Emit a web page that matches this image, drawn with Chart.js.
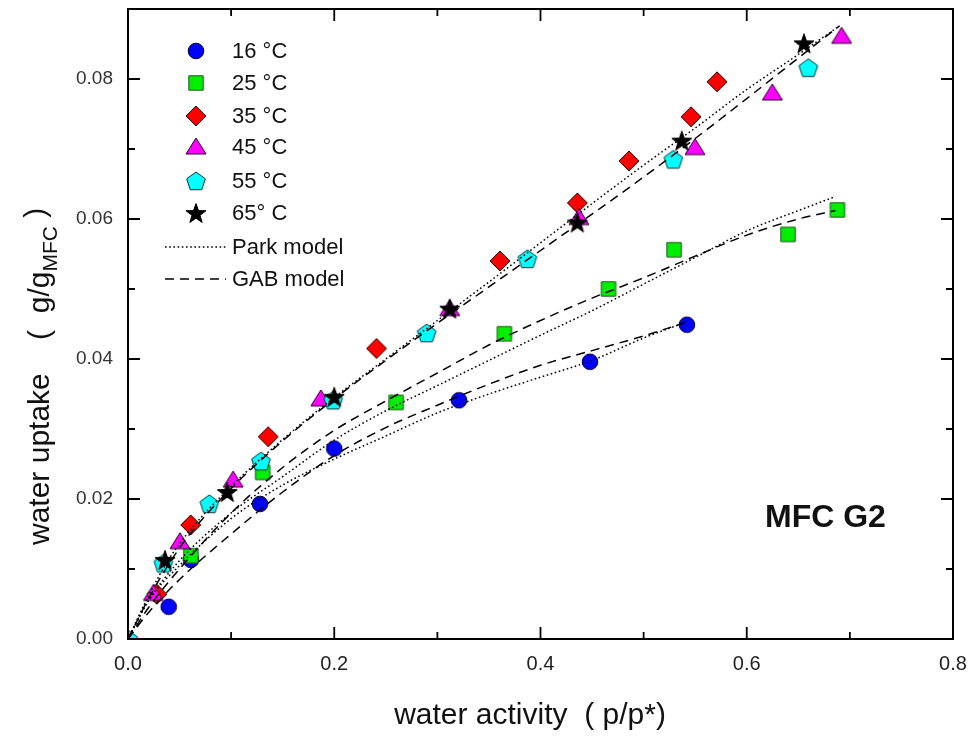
<!DOCTYPE html>
<html>
<head>
<meta charset="utf-8">
<script src="https://cdn.jsdelivr.net/npm/chart.js@4.4.1/dist/chart.umd.min.js"></script>
<style>
  body { margin: 0; background: #fff; }
  #wrap { width: 973px; height: 740px; }
</style>
</head>
<body>
<div id="wrap"><canvas id="chart" width="973" height="740"></canvas></div>
<script>
// measured points, water activity / water uptake
const aw16 = [0.0395, 0.061, 0.128, 0.200, 0.321, 0.448, 0.542];
const wu16 = [0.0046, 0.0113, 0.0193, 0.0272, 0.0341, 0.0396, 0.0449];
const aw25 = [0.061, 0.1306, 0.260, 0.365, 0.466, 0.5295, 0.640, 0.688];
const wu25 = [0.0119, 0.0238, 0.0338, 0.0436, 0.0500, 0.0556, 0.0578, 0.0613];
const aw35 = [0.028, 0.0608, 0.136, 0.241, 0.3607, 0.4357, 0.4858, 0.546, 0.5712];
const wu35 = [0.0064, 0.0163, 0.0289, 0.0415, 0.0540, 0.0623, 0.0683, 0.0746, 0.0796];
const aw45 = [0.0246, 0.0504, 0.102, 0.187, 0.312, 0.4373, 0.5498, 0.6248, 0.692];
const wu45 = [0.0065, 0.0139, 0.0227, 0.0343, 0.0472, 0.0602, 0.0702, 0.0780, 0.0861];
const aw55 = [0.0, 0.0343, 0.0789, 0.129, 0.199, 0.2896, 0.3873, 0.5288, 0.6597];
const wu55 = [0.0, 0.0108, 0.0193, 0.0254, 0.0341, 0.0437, 0.0543, 0.0685, 0.0816];
const aw65 = [0.0359, 0.0963, 0.200, 0.312, 0.4357, 0.537, 0.6555];
const wu65 = [0.0113, 0.0210, 0.0346, 0.0472, 0.0595, 0.0712, 0.0851];

// model curves
const mAw16 = [0, 0.02, 0.05, 0.1, 0.15, 0.2, 0.25, 0.3, 0.35, 0.4, 0.45, 0.5, 0.54];
const park16 = [0, 0.0055, 0.0105, 0.0172, 0.0220, 0.0257, 0.0290, 0.0323, 0.0350, 0.0374, 0.0398, 0.0430, 0.0452];
const gab16 = [0, 0.0038, 0.0085, 0.0150, 0.0210, 0.0262, 0.0302, 0.0334, 0.0364, 0.0391, 0.0412, 0.0433, 0.0452];
const mAw25 = [0, 0.02, 0.05, 0.1, 0.15, 0.2, 0.25, 0.3, 0.35, 0.4, 0.45, 0.5, 0.55, 0.6, 0.65, 0.686];
const park25 = [0, 0.0055, 0.0112, 0.0180, 0.0232, 0.0284, 0.0326, 0.0362, 0.0398, 0.0434, 0.0469, 0.0507, 0.0545, 0.0583, 0.0612, 0.0632];
const gab25 = [0, 0.0045, 0.0100, 0.0180, 0.0245, 0.0298, 0.0340, 0.0380, 0.0420, 0.0455, 0.0487, 0.0516, 0.0547, 0.0577, 0.0600, 0.0612];
const mAwHi = [0, 0.02, 0.04, 0.06, 0.1, 0.15, 0.2, 0.25, 0.3, 0.35, 0.4, 0.45, 0.5, 0.55, 0.6, 0.65, 0.69];
const parkHi = [0, 0.0062, 0.0115, 0.0155, 0.0218, 0.0285, 0.0345, 0.0400, 0.0455, 0.0510, 0.0566, 0.0622, 0.0677, 0.0730, 0.0785, 0.0835, 0.0876];
const gabHi = [0, 0.0058, 0.0108, 0.0150, 0.0215, 0.0283, 0.0343, 0.0398, 0.0451, 0.0503, 0.0555, 0.0607, 0.0660, 0.0715, 0.0772, 0.0830, 0.0876];

const legendNames = ['16 °C', '25 °C', '35 °C', '45 °C', '55 °C', '65° C'];
const modelNames = ['Park model', 'GAB model'];

function pts(xs, ys) {
  return xs.map(function (x, i) { return { x: x, y: ys[i] }; });
}

function makeMarker(shape, fill, stroke) {
  let c = document.createElement('canvas');
  c.width = 26; c.height = 26;
  let g = c.getContext('2d');
  g.translate(13, 13);
  g.fillStyle = fill;
  g.strokeStyle = stroke;
  g.lineWidth = 1;
  g.lineJoin = 'miter';
  g.beginPath();
  if (shape == 'circle') {
    g.arc(0, 0, 7.8, 0, Math.PI * 2);
  } else if (shape == 'square') {
    g.rect(-7.2, -7.2, 14.4, 14.4);
  } else if (shape == 'diamond') {
    g.moveTo(0, -10); g.lineTo(10, 0); g.lineTo(0, 10); g.lineTo(-10, 0);
  } else if (shape == 'triangle') {
    g.moveTo(0, -9); g.lineTo(10, 7); g.lineTo(-10, 7);
  } else if (shape == 'pentagon') {
    for (let k = 0; k < 5; k++) {
      let a = -Math.PI / 2 + k * 2 * Math.PI / 5;
      let px = Math.cos(a) * 9.8, py = Math.sin(a) * 9.8 + 0.8;
      if (k == 0) g.moveTo(px, py); else g.lineTo(px, py);
    }
  } else if (shape == 'star') {
    for (let k = 0; k < 10; k++) {
      let a = -Math.PI / 2 + k * Math.PI / 5;
      let r = (k % 2 == 0) ? 10.5 : 4.2;
      let px = Math.cos(a) * r, py = Math.sin(a) * r + 1;
      if (k == 0) g.moveTo(px, py); else g.lineTo(px, py);
    }
  }
  g.closePath();
  g.fill();
  g.stroke();
  return c;
}

const markers = [
  makeMarker('circle', '#0000ff', '#000033'),
  makeMarker('square', '#00ee00', '#225522'),
  makeMarker('diamond', '#ff0000', '#220000'),
  makeMarker('triangle', '#ff00ff', '#220022'),
  makeMarker('pentagon', '#00ffff', '#003333'),
  makeMarker('star', '#000000', '#000000')
];

const DOT = [1.6, 2.6];
const DASH = [9, 6];

function pointSet(i, xs, ys) {
  return {
    label: legendNames[i],
    data: pts(xs, ys),
    pointStyle: markers[i],
    pointRadius: 8,
    showLine: false,
    order: 20 - i
  };
}
function lineSet(label, xs, ys, dash) {
  return {
    label: label,
    data: pts(xs, ys),
    showLine: true,
    borderColor: '#000',
    borderWidth: 1.5,
    borderDash: dash,
    pointRadius: 0,
    cubicInterpolationMode: 'monotone',
    order: 1
  };
}

const TITLE_FONT = '30px "Liberation Sans", Arial, sans-serif';

const frameTicks = {
  id: 'frameTicks',
  afterDraw(chart) {
    let ctx = chart.ctx, a = chart.chartArea;
    let xs = chart.scales.x, ys = chart.scales.y;
    ctx.save();
    ctx.strokeStyle = '#000';
    ctx.lineWidth = 2;
    ctx.strokeRect(a.left, a.top, a.right - a.left, a.bottom - a.top);
    ctx.lineWidth = 1.8;
    ctx.beginPath();
    for (let k = 0; k <= 8; k++) {
      let px = xs.getPixelForValue(k / 10);
      let len = (k % 2 == 0) ? 12 : 7;
      ctx.moveTo(px, a.bottom); ctx.lineTo(px, a.bottom - len);
      ctx.moveTo(px, a.top); ctx.lineTo(px, a.top + len);
    }
    for (let k = 0; k <= 9; k++) {
      let py = ys.getPixelForValue(k / 100);
      let len = (k % 2 == 0) ? 12 : 7;
      ctx.moveTo(a.left, py); ctx.lineTo(a.left + len, py);
      ctx.moveTo(a.right, py); ctx.lineTo(a.right - len, py);
    }
    ctx.stroke();

    // legend
    let rows = [51, 83, 116, 147, 181, 213];
    ctx.fillStyle = '#111';
    ctx.font = '22px "Liberation Sans", Arial, sans-serif';
    ctx.textBaseline = 'middle';
    ctx.textAlign = 'left';
    for (let i = 0; i < 6; i++) {
      ctx.drawImage(markers[i], 196 - 13, rows[i] - 13);
      ctx.fillText(legendNames[i], 232, rows[i] + 1);
    }
    let lrows = [247, 279];
    let dashes = [DOT, DASH];
    ctx.lineWidth = 1.5;
    for (let i = 0; i < 2; i++) {
      ctx.setLineDash(dashes[i]);
      ctx.beginPath();
      ctx.moveTo(165, lrows[i]); ctx.lineTo(226, lrows[i]);
      ctx.stroke();
      ctx.setLineDash([]);
      ctx.fillText(modelNames[i], 232, lrows[i] + 1);
    }

    // sample label
    ctx.font = 'bold 32px "Liberation Sans", Arial, sans-serif';
    ctx.textAlign = 'left';
    ctx.fillText('MFC G2', 765, 518);

    // axis titles
    ctx.fillStyle = '#111';
    ctx.font = TITLE_FONT;
    ctx.textAlign = 'center';
    ctx.fillText('water activity  ( p/p*)', 530, 716);

    ctx.translate(41, 545);
    ctx.rotate(-Math.PI / 2);
    ctx.textAlign = 'left';
    let t1 = 'water uptake    (  g/g';
    ctx.fillText(t1, 0, 0);
    let w1 = ctx.measureText(t1).width;
    ctx.font = '21px "Liberation Sans", Arial, sans-serif';
    ctx.fillText('MFC', w1, 10);
    let w2 = ctx.measureText('MFC').width;
    ctx.font = TITLE_FONT;
    ctx.fillText(' )', w1 + w2, -4);
    ctx.restore();
  }
};

const ctx = document.getElementById('chart').getContext('2d');
const chart = new Chart(ctx, {
  type: 'scatter',
  data: {
    datasets: [
      pointSet(0, aw16, wu16),
      pointSet(1, aw25, wu25),
      pointSet(2, aw35, wu35),
      pointSet(3, aw45, wu45),
      pointSet(4, aw55, wu55),
      pointSet(5, aw65, wu65),
      lineSet('Park 16', mAw16, park16, DOT),
      lineSet('GAB 16', mAw16, gab16, DASH),
      lineSet('Park 25', mAw25, park25, DOT),
      lineSet('GAB 25', mAw25, gab25, DASH),
      lineSet('Park high', mAwHi, parkHi, DOT),
      lineSet('GAB high', mAwHi, gabHi, DASH)
    ]
  },
  options: {
    responsive: false,
    animation: false,
    layout: { padding: { left: 0, right: 20, top: 8, bottom: 0 } },
    plugins: {
      legend: { display: false },
      tooltip: { enabled: false }
    },
    scales: {
      x: {
        type: 'linear',
        min: 0, max: 0.8,
        grid: { display: false, drawTicks: false },
        border: { display: false },
        ticks: {
          stepSize: 0.1,
          padding: 13,
          color: '#222',
          font: { family: '"Liberation Sans", Arial', size: 20 },
          callback: function (v) {
            let k = Math.round(v * 10);
            return (k % 2 == 0) ? (k / 10).toFixed(1) : '';
          }
        },
        afterFit: function (s) {
          s.height = 101;
          s.paddingLeft = 0; s.paddingRight = 0;
        }
      },
      y: {
        type: 'linear',
        min: 0, max: 0.09,
        grid: { display: false, drawTicks: false },
        border: { display: false },
        ticks: {
          stepSize: 0.01,
          padding: 15,
          color: '#333',
          font: { family: '"Liberation Sans", Arial', size: 19 },
          callback: function (v) {
            let k = Math.round(v * 100);
            return (k % 2 == 0) ? (k / 100).toFixed(2) : '';
          }
        },
        afterFit: function (s) {
          s.width = 128;
          s.paddingTop = 0; s.paddingBottom = 0;
        }
      }
    }
  },
  plugins: [frameTicks]
});
</script>
</body>
</html>
